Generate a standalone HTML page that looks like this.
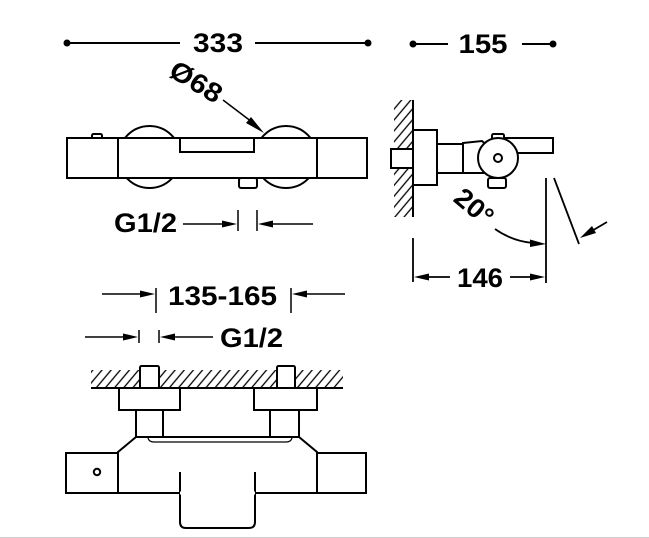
<!DOCTYPE html>
<html><head><meta charset="utf-8"><style>
html,body{margin:0;padding:0;background:#fff;}
svg{display:block;}
text{font-family:"Liberation Sans",sans-serif;font-weight:bold;fill:#000;}
</style></head><body>
<svg width="649" height="538" viewBox="0 0 649 538" xmlns="http://www.w3.org/2000/svg">
<defs>
<pattern id="h" patternUnits="userSpaceOnUse" width="7" height="7" patternTransform="rotate(40)">
<line x1="1" y1="0" x2="1" y2="7" stroke="#000" stroke-width="1.3"/>
</pattern>
</defs>
<g stroke="#000" stroke-width="2" fill="none">
<!-- 333 -->
<line x1="67" y1="43" x2="180" y2="43"/>
<line x1="255" y1="43" x2="368" y2="43"/>
<!-- 155 -->
<line x1="413" y1="44" x2="448" y2="44"/>
<line x1="522" y1="44" x2="553" y2="44"/>
</g>
<g fill="#000">
<circle cx="67" cy="43" r="3.5"/><circle cx="368" cy="43" r="3.5"/>
<circle cx="413" cy="44" r="3.5"/><circle cx="553" cy="44" r="3.5"/>
</g>
<text x="218" y="52" font-size="27" text-anchor="middle" textLength="50" lengthAdjust="spacingAndGlyphs">333</text>
<text x="483" y="53" font-size="27" text-anchor="middle" textLength="49" lengthAdjust="spacingAndGlyphs">155</text>

<!-- Ø68 -->
<g transform="translate(196,82) rotate(31)"><text x="0" y="9" font-size="27" text-anchor="middle" textLength="56" lengthAdjust="spacingAndGlyphs">Ø68</text></g>
<line x1="223" y1="100" x2="252" y2="122" stroke="#000" stroke-width="1.5"/>
<polygon points="264,133 246,123 251,117" fill="#000"/>

<!-- top view -->
<g stroke="#000" stroke-width="2" fill="#fff">
<circle cx="149.5" cy="157" r="31"/>
<circle cx="286" cy="157" r="31"/>
<rect x="92" y="134" width="10" height="5" rx="1.5"/>
<rect x="239" y="178" width="18" height="10" rx="2"/>
<rect x="67" y="138" width="300" height="40"/>
<line x1="118" y1="138" x2="118" y2="178"/>
<line x1="317" y1="138" x2="317" y2="178"/>
<rect x="180" y="138" width="74" height="14"/>
</g>

<!-- G1/2 upper -->
<text x="145.5" y="232" font-size="27" text-anchor="middle" textLength="63" lengthAdjust="spacingAndGlyphs">G1/2</text>
<g stroke="#000" stroke-width="1.5" fill="none">
<line x1="183" y1="224" x2="226" y2="224"/>
<line x1="238" y1="210" x2="238" y2="231"/>
<line x1="257" y1="210" x2="257" y2="231"/>
<line x1="270" y1="224" x2="313" y2="224"/>
</g>
<g fill="#000">
<polygon points="237,224 222,220.5 222,227.5"/>
<polygon points="258,224 273,220.5 273,227.5"/>
</g>

<!-- side view -->
<rect x="394" y="100" width="19" height="117" fill="url(#h)"/>
<g stroke="#000" stroke-width="2" fill="#fff">
<line x1="413" y1="100" x2="413" y2="217"/>
<rect x="391" y="149" width="22" height="19"/>
<rect x="413" y="130" width="24" height="55"/>
<rect x="437" y="144" width="26" height="29"/>
<path d="M463,143 L482,141 L490,148 L485,173 L463,173 Z"/>
<rect x="492" y="134" width="12" height="6" rx="1.5"/>
<rect x="488" y="178" width="18" height="10" rx="2"/>
<rect x="505" y="138" width="48" height="15"/>
<circle cx="498" cy="158" r="20"/>
<circle cx="498" cy="158" r="4"/>
</g>
<g stroke="#000" stroke-width="1.8" fill="none">
<line x1="546" y1="178" x2="546" y2="283"/>
<line x1="554" y1="178" x2="579" y2="244"/>
<line x1="607" y1="222" x2="590" y2="232"/>
<path d="M495,229 Q512,241 533,243"/>
<line x1="413" y1="238" x2="413" y2="282"/>
<line x1="420" y1="277" x2="450" y2="277"/>
<line x1="510" y1="277" x2="540" y2="277"/>
</g>
<g fill="#000">
<polygon points="580,238 592,226 596,233"/>
<polygon points="546,244 530,239.5 530,247"/>
<polygon points="414,277 429,273.5 429,280.5"/>
<polygon points="545,277 530,273.5 530,280.5"/>
</g>
<g transform="translate(474,207) rotate(40)"><text x="0" y="9" font-size="27" text-anchor="middle" textLength="42" lengthAdjust="spacingAndGlyphs">20°</text></g>
<text x="480" y="287" font-size="27" text-anchor="middle" textLength="46" lengthAdjust="spacingAndGlyphs">146</text>

<!-- 135-165 -->
<text x="222.5" y="305" font-size="27" text-anchor="middle" textLength="109" lengthAdjust="spacingAndGlyphs">135-165</text>
<g stroke="#000" stroke-width="1.5" fill="none">
<line x1="102" y1="294" x2="142" y2="294"/>
<line x1="156" y1="288" x2="156" y2="313"/>
<line x1="291" y1="288" x2="291" y2="313"/>
<line x1="305" y1="294" x2="345" y2="294"/>
<line x1="85" y1="337" x2="126" y2="337"/>
<line x1="139" y1="330" x2="139" y2="343"/>
<line x1="159" y1="330" x2="159" y2="343"/>
<line x1="172" y1="337" x2="213" y2="337"/>
</g>
<g fill="#000">
<polygon points="155,294 140,290.5 140,297.5"/>
<polygon points="292,294 307,290.5 307,297.5"/>
<polygon points="138,337 123,333.5 123,340.5"/>
<polygon points="160,337 175,333.5 175,340.5"/>
</g>
<text x="251.5" y="347" font-size="27" text-anchor="middle" textLength="63" lengthAdjust="spacingAndGlyphs">G1/2</text>

<!-- bottom view -->
<rect x="91" y="370" width="252" height="18" fill="url(#h)"/>
<g stroke="#000" stroke-width="2" fill="#fff">
<line x1="91" y1="388" x2="343" y2="388"/>
<rect x="140" y="366" width="19" height="22" rx="1.5"/>
<rect x="277" y="366" width="18" height="22" rx="1.5"/>
<rect x="119" y="388" width="61" height="22"/>
<rect x="254" y="388" width="63" height="22"/>
<rect x="136" y="410" width="27" height="27"/>
<rect x="270" y="410" width="29" height="27"/>
<path d="M118,453 L118,452 L136,437 L299,437 L317,452 L317,493 L118,493 Z"/>
<rect x="66" y="453" width="52" height="40"/>
<rect x="317" y="453" width="49" height="40"/>
<path d="M180,472 L180,522 Q180,528 186,528 L249,528 Q255,528 255,522 L255,472" />
<circle cx="97" cy="472" r="3.2"/>
</g>
<path d="M148,438 Q149,442 154,442 L286,442 Q291,442 292,438" stroke="#000" stroke-width="1.3" fill="none"/>
<line x1="180" y1="493" x2="255" y2="493" stroke="#fff" stroke-width="3"/>
<line x1="0" y1="537.5" x2="649" y2="537.5" stroke="#ccc" stroke-width="1"/>
</svg>
</body></html>
